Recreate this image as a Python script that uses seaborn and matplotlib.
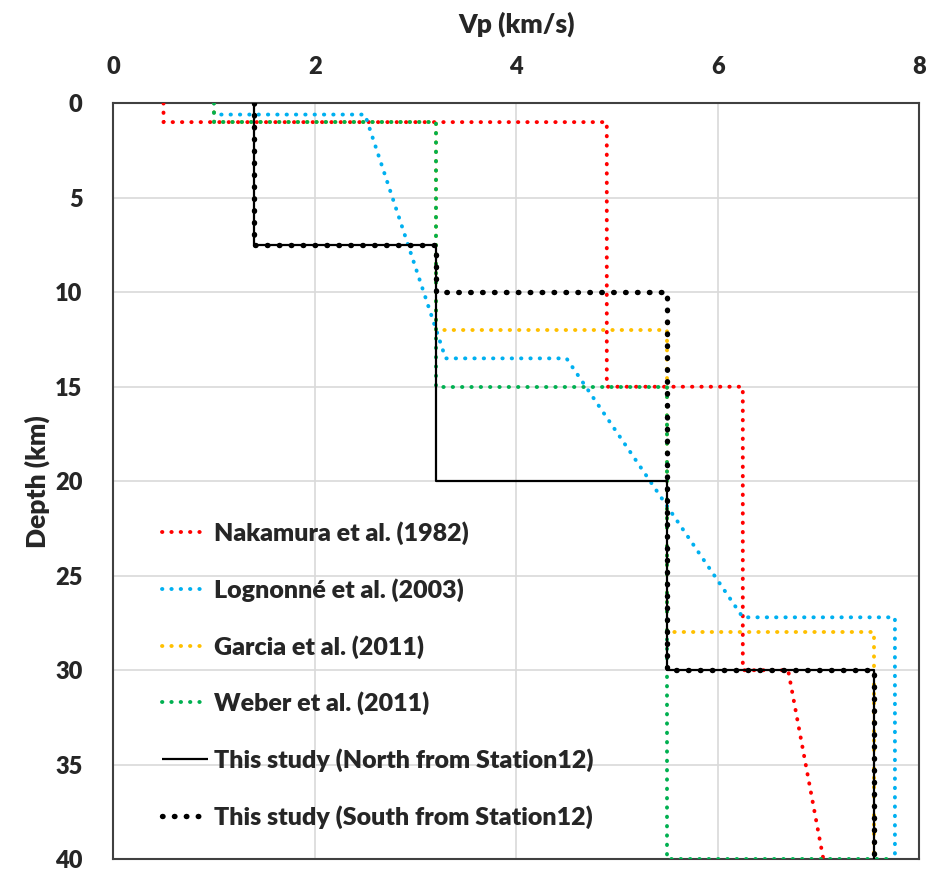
import pandas as pd
import numpy as np
import matplotlib
matplotlib.use("Agg")
import matplotlib.pyplot as plt
import seaborn as sns

# velocity models, Vp (km/s) vs depth (km)
nakamura_vp = [0.5, 0.5, 4.9, 4.9, 6.25, 6.25, 6.7, 7.05]
nakamura_z = [0, 1, 1, 15, 15, 30, 30, 40]

lognonne_vp = [1.0, 1.0, 2.5, 3.3, 4.5, 6.25, 7.76, 7.76]
lognonne_z = [0, 0.6, 0.6, 13.5, 13.5, 27.2, 27.2, 40]

garcia_vp = [1.0, 1.0, 3.2, 3.2, 5.5, 5.5, 7.55, 7.55]
garcia_z = [0, 1, 1, 12, 12, 28, 28, 40]

weber_vp = [1.0, 1.0, 3.2, 3.2, 5.5, 5.5, 7.75]
weber_z = [0, 1, 1, 15, 15, 40, 40]

north_vp = [1.4, 1.4, 3.2, 3.2, 5.5, 5.5, 7.55, 7.55]
north_z = [0, 7.5, 7.5, 20, 20, 30, 30, 40]

south_vp = [1.4, 1.4, 3.2, 3.2, 5.5, 5.5, 7.55, 7.55]
south_z = [0, 7.5, 7.5, 10, 10, 30, 30, 40]

labels = ["Nakamura et al. (1982)", "Lognonné et al. (2003)", "Garcia et al. (2011)",
          "Weber et al. (2011)", "This study (North from Station12)",
          "This study (South from Station12)"]

sns.set_style("white")
plt.rcParams['font.family'] = ['Lato', 'DejaVu Sans']
plt.rcParams['font.weight'] = 'bold'

fig = plt.figure(figsize=(9.35, 8.71), dpi=100)
ax = fig.add_axes([0.121, 0.0135, 0.862, 0.868])

dot = (0, (0.1, 2.3))
series = [
    (nakamura_vp, nakamura_z, "#FF0000", 2.8, dot, 'round'),
    (lognonne_vp, lognonne_z, "#00B0F0", 2.8, dot, 'round'),
    (garcia_vp, garcia_z, "#FFC000", 2.8, dot, 'round'),
    (weber_vp, weber_z, "#00B050", 2.8, dot, 'round'),
    (north_vp, north_z, "black", 1.6, '-', 'butt'),
    (south_vp, south_z, "black", 3.9, (0, (0.1, 2.1)), 'round'),
]

for (vp, z, col, lw, ls, cap), lab in zip(series, labels):
    df = pd.DataFrame({"Vp": vp, "Depth": z})
    sns.lineplot(data=df, x="Vp", y="Depth", sort=False, estimator=None, ax=ax,
                 color=col, linewidth=lw, linestyle=ls, label=lab,
                 dash_capstyle=cap, solid_capstyle='butt', zorder=3)

ax.set_xlim(0, 8)
ax.set_ylim(40, 0)
ax.set_xticks(np.arange(0, 9, 2))
ax.set_yticks(np.arange(0, 41, 5))
ax.xaxis.tick_top()
ax.xaxis.set_label_position('top')
ax.set_xlabel("Vp (km/s)", fontsize=19, fontweight='heavy', labelpad=17)
ax.set_ylabel("Depth (km)", fontsize=19, fontweight='heavy', labelpad=4)
ax.tick_params(axis='x', length=0, labelsize=17, pad=18)
ax.tick_params(axis='y', length=0, labelsize=17, pad=22)
for t in ax.get_xticklabels() + ax.get_yticklabels():
    t.set_fontweight('heavy')
ax.grid(True, color="#d9d9d9", linewidth=1.2)
for s in ax.spines.values():
    s.set_color("#404040")
    s.set_linewidth(1.5)

leg = ax.legend(loc='upper left', bbox_to_anchor=(0.048, 0.46), frameon=False,
                fontsize=18, labelspacing=1.32, handlelength=1.85,
                handletextpad=0.25, borderaxespad=0)
for t in leg.get_texts():
    t.set_fontweight('heavy')

fig.savefig("out.png", dpi=100)
